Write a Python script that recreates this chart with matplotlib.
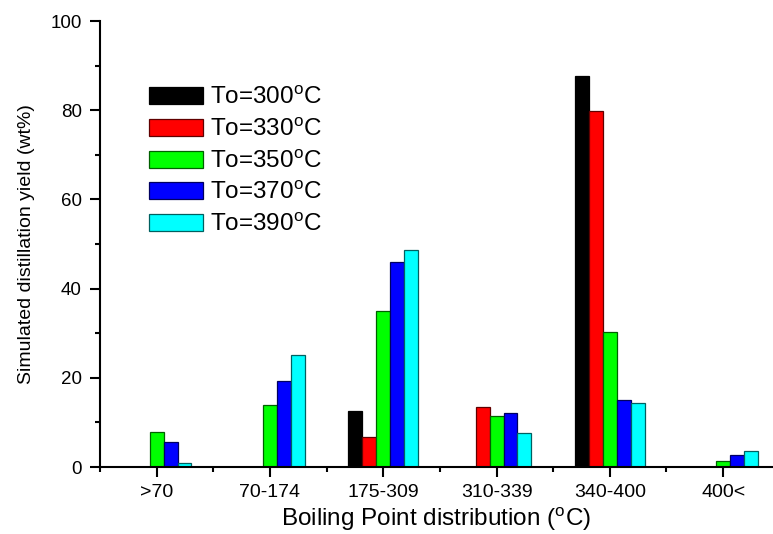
import numpy as np
import matplotlib.pyplot as plt
from matplotlib.ticker import MultipleLocator

plt.rcParams['font.family'] = ['Liberation Sans', 'DejaVu Sans']
plt.rcParams['mathtext.fontset'] = 'custom'
plt.rcParams['mathtext.rm'] = 'Liberation Sans'

categories = [">70", "70-174", "175-309", "310-339", "340-400", "400<"]
series_names = ["300", "330", "350", "370", "390"]

# wt% per boiling range, one list per starting temperature
t300 = [0, 0, 12.6, 0, 87.7, 0]
t330 = [0, 0, 6.7, 13.5, 79.8, 0]
t350 = [7.8, 13.9, 35.0, 11.4, 30.3, 1.4]
t370 = [5.6, 19.2, 45.9, 12.0, 15.1, 2.6]
t390 = [0.9, 25.1, 48.6, 7.7, 14.4, 3.6]

colors = ["#000000", "#ff0000", "#00ff00", "#0000ff", "#00ffff"]
edges = ["#000000", "#600000", "#006000", "#000060", "#006060"]

fig = plt.figure(figsize=(7.73, 5.34), dpi=100)
ax = fig.add_axes([100 / 773, 67 / 534, 673 / 773, 446 / 534])

x = np.arange(len(categories))
w = 0.123
for i, (vals, name) in enumerate(zip([t300, t330, t350, t370, t390], series_names)):
    ax.bar(x + (i - 2) * w, vals, width=w, color=colors[i], edgecolor=edges[i],
           linewidth=0.9, label="To=" + name + r"$^{\rm o}$C")

ax.set_xlim(-0.5, 5.44)
ax.set_ylim(0, 100)
ax.set_xticks(x)
ax.set_xticklabels(categories, fontsize=14)
ax.xaxis.set_minor_locator(MultipleLocator(1, offset=0.5))
ax.yaxis.set_major_locator(MultipleLocator(20))
ax.yaxis.set_minor_locator(MultipleLocator(10))
ax.tick_params(axis="y", labelsize=13.5, pad=6)
ax.tick_params(axis="x", pad=5.5)
ax.tick_params(which="major", direction="out", length=7, width=1.5)
ax.tick_params(which="minor", direction="out", length=3.6, width=1.5)

for s in ["top", "right"]:
    ax.spines[s].set_visible(False)
for s in ["left", "bottom"]:
    ax.spines[s].set_linewidth(1.5)

ax.set_xlabel(r"Boiling Point distribution ($^{\rm o}$C)", fontsize=17.5, labelpad=3)
ax.set_ylabel("Simulated distillation yield (wt%)", fontsize=14)
ax.yaxis.set_label_coords(-0.096, 0.5)

ax.legend(loc="upper left", bbox_to_anchor=(0.073, 0.853), frameon=False,
          fontsize=17.5, handlelength=2.22, handleheight=0.7,
          labelspacing=0.36, handletextpad=0.29, borderpad=0, borderaxespad=0)

fig.savefig("out.png", dpi=100)
